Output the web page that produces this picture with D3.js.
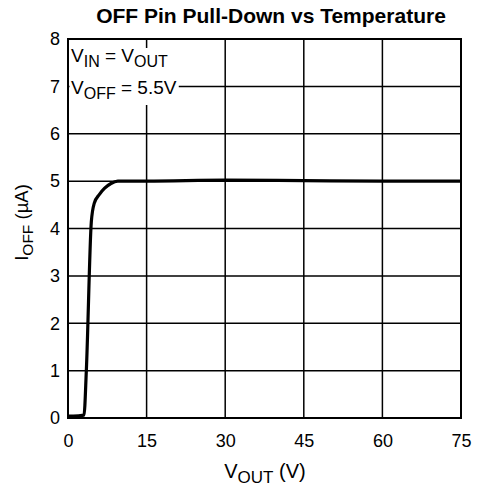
<!DOCTYPE html>
<html><head><meta charset="utf-8">
<script src="https://cdn.jsdelivr.net/npm/d3@7"></script>
<style>body{margin:0;background:#fff}svg{display:block}text{font-family:"Liberation Sans",Arial,sans-serif}</style>
</head><body>
<script>
const vout = [0, 1, 3.05, 3.5, 4.45, 5.0, 6.0, 7.0, 8.2, 9.5, 15, 30, 45, 60, 75];
const ioff = [0.04, 0.04, 0.06, 1.0, 4.14, 4.53, 4.72, 4.85, 4.95, 5.0, 5.0, 5.02, 5.01, 5.0, 5.0];
const xTicks = [0, 15, 30, 45, 60, 75];
const yTicks = [0, 1, 2, 3, 4, 5, 6, 7, 8];

const W = 477, H = 493;
const m = {l: 68, r: 16, t: 39, b: 75};
const FONT = '"Liberation Sans",Arial,sans-serif';
const svg = d3.select("body").append("svg").attr("width", W).attr("height", H);
const x = d3.scaleLinear().domain([0, 75]).range([m.l, W - m.r]);
const y = d3.scaleLinear().domain([0, 8]).range([H - m.b, m.t]);

// grid
const g = svg.append("g");
g.selectAll(".vx").data(xTicks.slice(1, -1)).join("line")
  .attr("x1", d => x(d)).attr("x2", d => x(d)).attr("y1", y(0)).attr("y2", y(8))
  .attr("stroke", "#000").attr("stroke-width", 1.5);
g.selectAll(".hy").data(yTicks.slice(1, -1)).join("line")
  .attr("y1", d => y(d)).attr("y2", d => y(d)).attr("x1", x(0)).attr("x2", x(75))
  .attr("stroke", "#000").attr("stroke-width", 1.5);

// annotation with white backgrounds
const ann = svg.append("g");
function annot(yb, parts, extra) {
  const t = ann.append("text").attr("x", x(0) + 3).attr("y", yb).attr("font-size", 19);
  let low = false;
  parts.forEach(p => {
    const s = t.append("tspan").text(p.t);
    if (p.sub && !low) { s.attr("font-size", 16).attr("dy", 5); low = true; }
    else if (p.sub) { s.attr("font-size", 16); }
    else if (low) { s.attr("dy", -5); low = false; }
  });
  const bb = t.node().getBBox();
  ann.insert("rect", "text").attr("x", x(0) + 1.5).attr("y", bb.y + 3)
    .attr("width", bb.x + bb.width + 2 - x(0) - 1.5).attr("height", bb.height + extra).attr("fill", "#fff");
}
annot(62, [{t: "V"}, {t: "IN", sub: true}, {t: " = V"}, {t: "OUT", sub: true}], 12);
annot(94, [{t: "V"}, {t: "OFF", sub: true}, {t: " = 5.5V"}], 0);

// frame
svg.append("rect").attr("x", x(0)).attr("y", y(8)).attr("width", x(75) - x(0)).attr("height", y(0) - y(8))
  .attr("fill", "none").attr("stroke", "#000").attr("stroke-width", 2);

// axes labels via d3 axes
const xAxis = svg.append("g").attr("transform", `translate(0,${y(0)})`)
  .call(d3.axisBottom(x).tickValues(xTicks).tickSize(0).tickPadding(16));
xAxis.select(".domain").remove();
xAxis.selectAll("text").attr("font-size", 18).attr("fill", "#000").style("font-family", FONT);
const yAxis = svg.append("g").attr("transform", `translate(${x(0)},0)`)
  .call(d3.axisLeft(y).tickValues(yTicks).tickSize(0).tickPadding(8));
yAxis.select(".domain").remove();
yAxis.selectAll("text").attr("font-size", 18).attr("fill", "#000").style("font-family", FONT);

// curve
svg.append("path").datum(vout.map((v, i) => [v, ioff[i]]))
  .attr("d", d3.line().x(d => x(d[0])).y(d => y(d[1])).curve(d3.curveMonotoneX))
  .attr("fill", "none").attr("stroke", "#000").attr("stroke-width", 3.2).attr("stroke-linejoin", "round");

// title
svg.append("text").attr("x", 271).attr("y", 23).attr("text-anchor", "middle")
  .attr("font-size", 21).attr("font-weight", "bold").text("OFF Pin Pull-Down vs Temperature");

// x label
const xl = svg.append("text").attr("x", 265).attr("y", 478).attr("text-anchor", "middle").attr("font-size", 20);
xl.append("tspan").text("V");
xl.append("tspan").attr("font-size", 17).attr("dy", 5).text("OUT");
xl.append("tspan").attr("dy", -5).text(" (V)");

// y label
const yl = svg.append("text").attr("transform", `translate(28,${(y(0) + y(8)) / 2 - 6}) rotate(-90)`)
  .attr("text-anchor", "middle").attr("font-size", 18.5);
yl.append("tspan").text("I");
yl.append("tspan").attr("font-size", 15.5).attr("dy", 5).text("OFF");
yl.append("tspan").attr("dy", -5).text(" (µA)");
</script>
</body></html>
